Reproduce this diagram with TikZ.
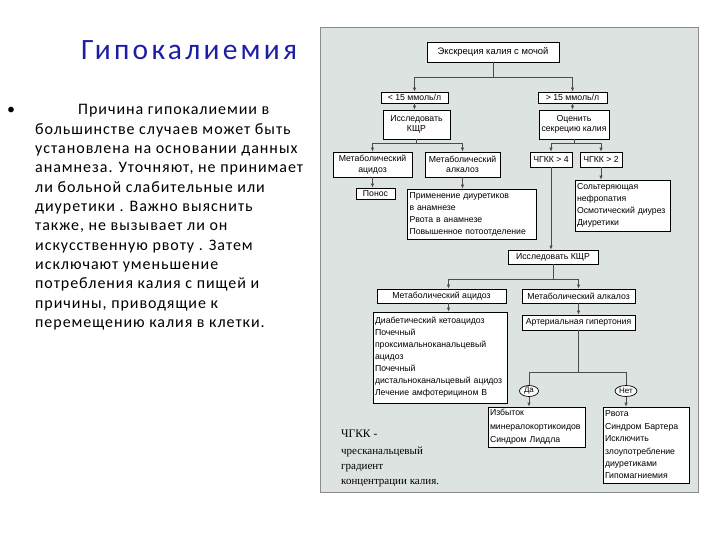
\documentclass[tikz,border=0pt]{standalone}
\usepackage{fontspec}
\setmainfont{Liberation Serif}
\newfontfamily\slidefont[LetterSpace=6]{Carlito}
\newfontfamily\titlefont[LetterSpace=11]{Carlito}
\newfontfamily\flowfont{Liberation Sans}
\usetikzlibrary{arrows.meta, shapes.geometric}
\definecolor{titleblue}{RGB}{30,30,165}
\definecolor{panelbg}{RGB}{221,227,224}

\tikzset{
  box/.style={draw=black, fill=white, line width=0.7pt, inner sep=1pt, align=center,
    font=\flowfont\fontsize{8.7}{10.5}\selectfont},
  listbox/.style={box, align=left, inner xsep=2pt, font=\flowfont\fontsize{8.7}{12}\selectfont},
  oval/.style={ellipse, draw=black, fill=white, line width=0.7pt, inner sep=0pt,
    font=\flowfont\fontsize{8}{9}\selectfont},
  conn/.style={draw=black!70, line width=0.7pt},
  arr/.style={conn, -{Latex[length=4pt,width=3.5pt]}},
  slide/.style={font=\slidefont\fontsize{16}{19}\selectfont, anchor=base west, inner sep=0pt},
  note/.style={anchor=base west, inner sep=0pt, font=\fontsize{11}{12}\selectfont}
}

\begin{document}
\begin{tikzpicture}[x=1pt, y=-1pt]
  \useasboundingbox (0,0) rectangle (720,540);

  % Left half: title and the bullet text
  \node[font=\titlefont\fontsize{29.5}{32}\selectfont, text=titleblue] (title) at (189,50) {Гипокалиемия};
  \node[slide] (bullet) at (7,115) {•};
  \node[slide] (line0) at (78,115) {Причина гипокалиемии в};
  \foreach \t [count=\i] in {большинстве случаев может быть, установлена на основании данных,
      {анамнеза. Уточняют, не принимает}, ли больной слабительные или, диуретики . Важно выяснить,
      {также, не вызывает ли он}, искусственную рвоту . Затем, исключают уменьшение,
      потребления калия с пищей и, {причины, приводящие к}, перемещению калия в клетки.}{
    \node[slide] (line\i) at (35,115+19.3*\i) {\t};
  }

  % Panel of the scheme
  \fill[panelbg] (320,27) rectangle (698,492);
  \draw[black!45, line width=0.8pt] (320,27) rectangle (698,492);

  % First levels
  \node[box, minimum width=132pt, minimum height=20pt, font=\flowfont\fontsize{9.4}{11}\selectfont] (ek) at (493,52) {Экскреция калия с мочой};
  \node[box, minimum width=67pt, minimum height=11pt] (lo) at (414.5,97.5) {< 15 ммоль/л};
  \node[box, minimum width=69pt, minimum height=11pt] (hi) at (572.5,97.5) {> 15 ммоль/л};
  \node[box, minimum width=67pt, minimum height=29pt] (kshr1) at (416.5,124.5) {Исследовать\\КЩР};
  \node[box, minimum width=70pt, minimum height=29pt] (sec) at (574,124.5) {Оценить\\секрецию калия};
  \node[box, minimum width=79pt, minimum height=25pt] (acid1) at (372.5,164.5) {Метаболический\\ацидоз};
  \node[box, minimum width=75pt, minimum height=25pt] (alk1) at (462.5,164.5) {Метаболический\\алкалоз};
  \node[box, minimum width=39pt, minimum height=11pt] (ponos) at (375.5,193.5) {Понос};
  \node[listbox, text width=125pt, minimum height=50pt] (diu) at (472,214)
    {Применение диуретиков\\в анамнезе\\Рвота в анамнезе\\Повышенное потоотделение};
  \node[box, minimum width=42pt, minimum height=15pt] (chg4) at (551,159.5) {ЧГКК > 4};
  \node[box, minimum width=42pt, minimum height=15pt] (chg2) at (601,159.5) {ЧГКК > 2};
  \node[listbox, text width=91pt, minimum height=51pt] (salt) at (622.5,205.5)
    {Сольтеряющая\\нефропатия\\Осмотический диурез\\Диуретики};

  % Second check
  \node[box, minimum width=90pt, minimum height=14pt] (kshr2) at (553,257) {Исследовать КЩР};
  \node[box, minimum width=129pt, minimum height=14pt] (acid2) at (441.5,296) {Метаболический ацидоз};
  \node[box, minimum width=113pt, minimum height=14pt] (alk2) at (578.5,296) {Метаболический алкалоз};
  \node[listbox, text width=130pt, minimum height=91pt] (acidlist) at (440,357.5)
    {Диабетический кетоацидоз\\Почечный\\проксимальноканальцевый\\ацидоз\\Почечный\\дистальноканальцевый ацидоз\\Лечение амфотерицином В};
  \node[box, minimum width=113pt, minimum height=15pt] (hyp) at (578.5,322.5) {Артериальная гипертония};
  \node[oval, minimum width=19pt, minimum height=11pt] (da) at (529,391) {Да};
  \node[oval, minimum width=22pt, minimum height=11pt] (net) at (626,391) {Нет};
  \node[listbox, text width=93pt, minimum height=40pt, font=\flowfont\fontsize{8.7}{13.5}\selectfont] (mineral) at (536.5,427)
    {Избыток\\минералокортикоидов\\Синдром Лиддла};
  \node[listbox, text width=82pt, minimum height=76pt, font=\flowfont\fontsize{8.7}{12.4}\selectfont] (netlist) at (646,445)
    {Рвота\\Синдром Бартера\\Исключить\\злоупотребление\\диуретиками\\Гипомагниемия};

  % Connectors
  \draw[conn] (ek.south) -- ++(0,15) coordinate (bus1);
  \draw[arr] (bus1) -| (lo.north);
  \draw[arr] (bus1) -| (hi.north);
  \draw[arr] (lo.south) -- (lo.south |- kshr1.north);
  \draw[arr] (hi.south) -- (hi.south |- sec.north);
  \draw[conn] (kshr1.south) -- ++(0,4) coordinate (bus2);
  \draw[arr] (bus2) -| (acid1.north);
  \draw[arr] (bus2) -| (alk1.north);
  \draw[conn] (sec.south) -- ++(0,4) coordinate (bus3);
  \draw[arr] (bus3) -| (chg4.north);
  \draw[arr] (bus3) -| (chg2.north);
  \draw[arr] (acid1.south) -- (acid1.south |- ponos.north);
  \draw[arr] (alk1.south) -- (alk1.south |- diu.north);
  \draw[arr] (chg2.south) -- (chg2.south |- salt.north);
  \draw[arr] (chg4.south) -- (chg4.south |- kshr2.north);
  \draw[conn] (kshr2.south) -- ++(0,15) coordinate (bus4);
  \draw[arr] (bus4) -| ([xshift=7pt]acid2.north);
  \draw[arr] (bus4) -| (alk2.north);
  \draw[arr] ([xshift=7pt]acid2.south) -- ([xshift=7pt]acid2.south |- acidlist.north);
  \draw[arr] (alk2.south) -- (alk2.south |- hyp.north);
  \draw[conn] (hyp.south) -- ++(0,42) coordinate (bus5);
  \draw[conn] (bus5) -| (da.north);
  \draw[conn] (bus5) -| (net.north);
  \draw[arr] (da.south) -- (da.south |- mineral.north);
  \draw[arr] (net.south) -- (net.south |- netlist.north);

  % Note on the abbreviation
  \node[note, font=\fontsize{11.5}{13}\selectfont] (gkk) at (341,437) {ЧГКК -};
  \node[note] (gkk1) at (341,454) {чресканальцевый};
  \node[note] (gkk2) at (341,469) {градиент};
  \node[note] (gkk3) at (341,484) {концентрации калия.};
\end{tikzpicture}
\end{document}
